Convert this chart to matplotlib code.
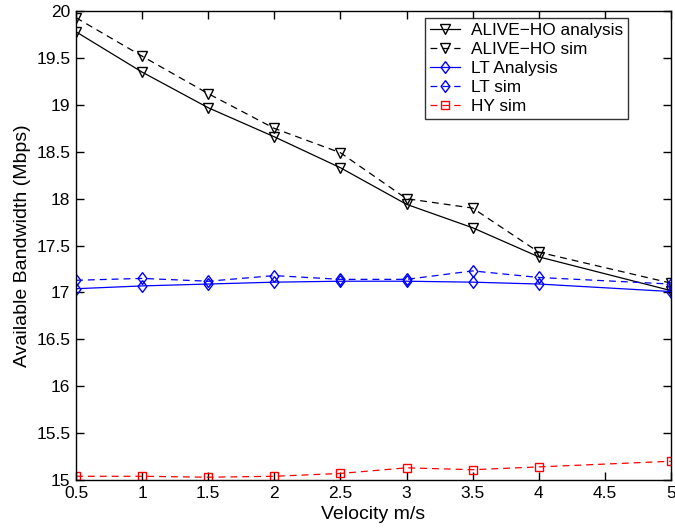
import numpy as np
import matplotlib
matplotlib.use('Agg')
import matplotlib.pyplot as plt

plt.rcParams['font.family'] = ['Liberation Sans', 'DejaVu Sans']

velocity = [0.5, 1, 1.5, 2, 2.5, 3, 3.5, 4, 5]
alive_analysis = [19.78, 19.35, 18.97, 18.66, 18.33, 17.94, 17.69, 17.38, 17.02]
alive_sim = [19.93, 19.52, 19.12, 18.75, 18.49, 18.00, 17.90, 17.43, 17.10]
lt_analysis = [17.04, 17.07, 17.09, 17.11, 17.12, 17.12, 17.11, 17.09, 17.01]
lt_sim = [17.13, 17.15, 17.12, 17.18, 17.14, 17.14, 17.23, 17.16, 17.09]
hy_sim = [15.04, 15.04, 15.03, 15.04, 15.07, 15.13, 15.11, 15.14, 15.20]

fig = plt.figure(figsize=(6.75, 5.31), dpi=100)
ax = fig.add_axes([0.1126, 0.096, 0.8814, 0.883])

dash = (5.5, 4)
diamond = [(0, 1), (0.75, 0), (0, -1), (-0.75, 0), (0, 1)]
ax.plot(velocity, alive_analysis, '-', color='k', marker='v', mfc='none',
        ms=7, lw=0.9, label='ALIVE\u2212HO analysis')
ax.plot(velocity, alive_sim, '--', dashes=dash, color='k', marker='v', mfc='none',
        ms=7, lw=0.9, label='ALIVE\u2212HO sim')
ax.plot(velocity, lt_analysis, '-', color='b', marker=diamond, mfc='none',
        ms=8.5, lw=0.9, label='LT Analysis')
ax.plot(velocity, lt_sim, '--', dashes=dash, color='b', marker=diamond, mfc='none',
        ms=8.5, lw=0.9, label='LT sim')
ax.plot(velocity, hy_sim, '--', dashes=dash, color='r', marker='s', mfc='none',
        ms=5.5, lw=0.9, label='HY sim')

ax.set_xlim(0.5, 5)
ax.set_ylim(15, 20)
ax.set_xticks(np.arange(0.5, 5.01, 0.5))
ax.set_xticklabels(['0.5', '1', '1.5', '2', '2.5', '3', '3.5', '4', '4.5', '5'])
ax.set_yticks(np.arange(15, 20.01, 0.5))
ax.set_yticklabels(['15', '15.5', '16', '16.5', '17', '17.5', '18', '18.5',
                    '19', '19.5', '20'])
ax.tick_params(direction='in', top=True, right=True, labelsize=12.5,
               length=6, width=1, pad=4)
for s in ax.spines.values():
    s.set_linewidth(1)

ax.set_xlabel('Velocity m/s', fontsize=14, labelpad=4)
ax.set_ylabel('Available Bandwidth (Mbps)', fontsize=14, labelpad=4)

leg = ax.legend(loc='upper right', fontsize=12.4, frameon=True, fancybox=False,
                edgecolor='k', borderpad=0.3, labelspacing=0.22,
                handlelength=1.7, handletextpad=0.65, borderaxespad=0,
                bbox_to_anchor=(0.928, 0.985))
leg.get_frame().set_linewidth(1)

plt.savefig('out.png', dpi=100)
